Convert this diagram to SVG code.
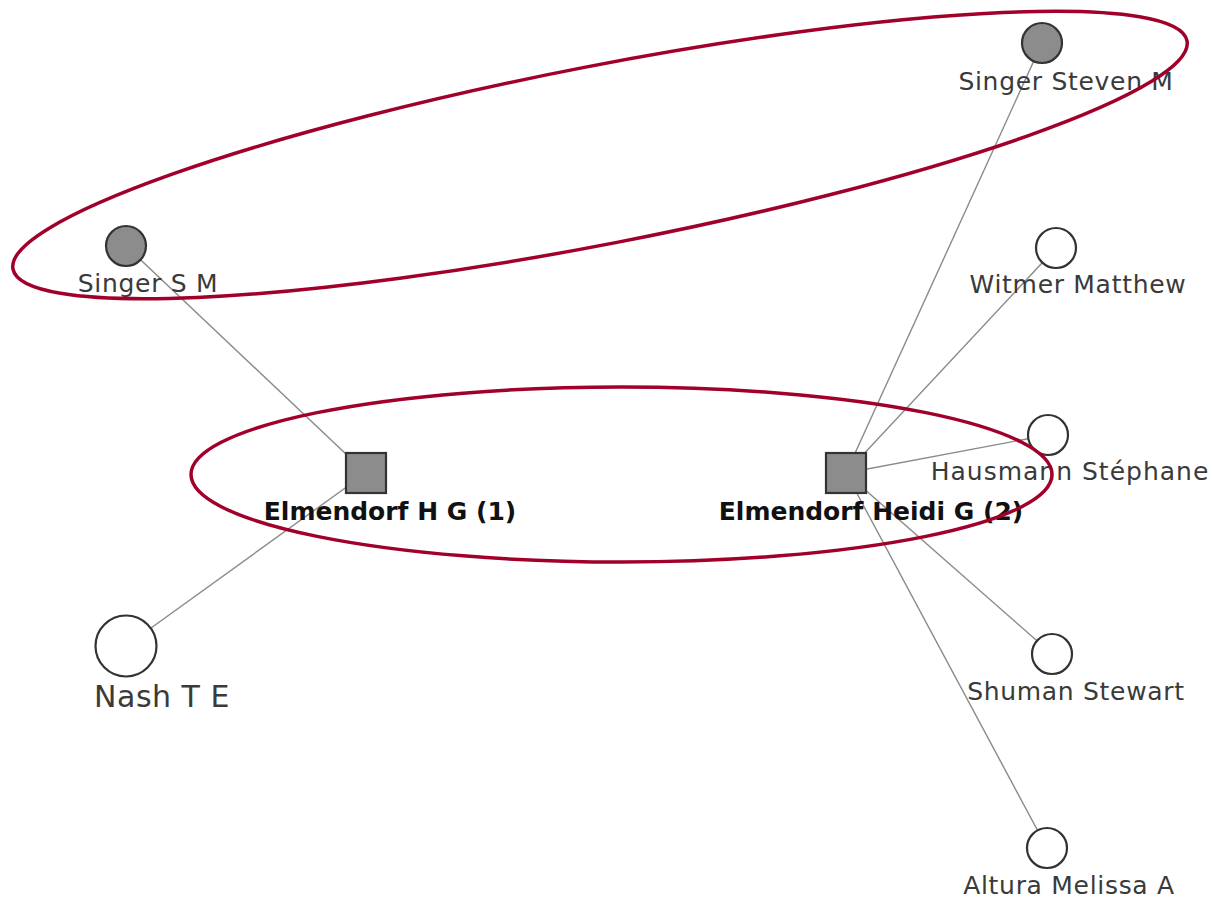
<svg xmlns="http://www.w3.org/2000/svg" width="1212" height="903" viewBox="0 0 1212 903">
<style>
.edge{stroke:#8a8a8a;stroke-width:1.4;fill:none}
.circ{stroke:#333;stroke-width:2.2}
.gray{fill:#8c8c8c}
.white{fill:#fff}
.lbl{font-family:"DejaVu Sans",sans-serif;font-size:25px;fill:#3a3a3a;text-anchor:middle;letter-spacing:0.7px}
.blbl{font-family:"DejaVu Sans",sans-serif;font-size:25px;font-weight:bold;fill:#111;text-anchor:middle}
.hl{fill:none;stroke:#a0002a;stroke-width:3.5}
</style>
<rect width="1212" height="903" fill="#fff"/>
<g id="edges">
<line class="edge" x1="126" y1="246" x2="366" y2="473"/>
<line class="edge" x1="126" y1="646" x2="366" y2="473"/>
<line class="edge" x1="1042" y1="43" x2="846" y2="473"/>
<line class="edge" x1="1056" y1="248" x2="846" y2="473"/>
<line class="edge" x1="1048" y1="435" x2="846" y2="473"/>
<line class="edge" x1="1052" y1="654" x2="846" y2="473"/>
<line class="edge" x1="1047" y1="848" x2="846" y2="473"/>
</g>
<g id="singer-steven-m">
<circle class="circ gray" cx="1042" cy="43" r="20"/>
<text class="lbl" x="1066" y="90">Singer Steven M</text>
</g>
<g id="singer-s-m">
<circle class="circ gray" cx="126" cy="246" r="20"/>
<text class="lbl" x="148" y="292">Singer S M</text>
</g>
<g id="witmer-matthew">
<circle class="circ white" cx="1056" cy="248" r="20"/>
<text class="lbl" x="1078" y="293">Witmer Matthew</text>
</g>
<g id="hausmann-stephane">
<circle class="circ white" cx="1048" cy="435" r="20"/>
<text class="lbl" x="1070" y="480" style="letter-spacing:1px">Hausmann Stéphane</text>
</g>
<g id="elmendorf-h-g-1">
<rect class="circ gray" x="346" y="453" width="40" height="40"/>
<text class="blbl" x="390" y="520">Elmendorf H G (1)</text>
</g>
<g id="elmendorf-heidi-g-2">
<rect class="circ gray" x="826" y="453" width="40" height="40"/>
<text class="blbl" x="871" y="520">Elmendorf Heidi G (2)</text>
</g>
<g id="nash-t-e">
<circle class="circ white" cx="126" cy="646" r="30.5"/>
<text class="lbl" x="162" y="707" style="font-size:30px;letter-spacing:0.5px">Nash T E</text>
</g>
<g id="shuman-stewart">
<circle class="circ white" cx="1052" cy="654" r="20"/>
<text class="lbl" x="1076" y="700">Shuman Stewart</text>
</g>
<g id="altura-melissa-a">
<circle class="circ white" cx="1047" cy="848" r="20"/>
<text class="lbl" x="1069" y="894">Altura Melissa A</text>
</g>
<g id="highlights">
<ellipse class="hl" cx="600" cy="155" rx="598" ry="89" transform="rotate(-11 600 155)"/>
<ellipse class="hl" cx="621.5" cy="474.5" rx="430.5" ry="87.5"/>
</g>
</svg>
